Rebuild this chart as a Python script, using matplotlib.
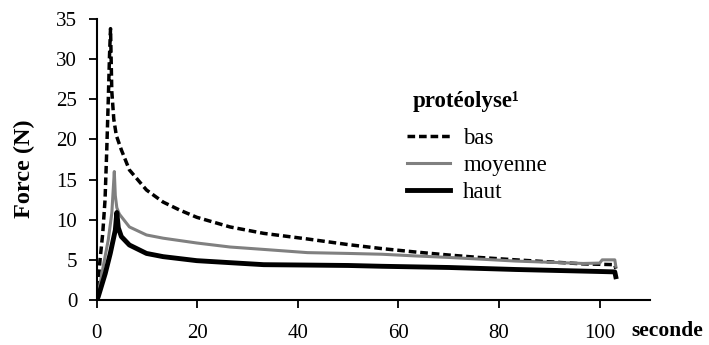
import matplotlib
matplotlib.use("Agg")
import matplotlib.pyplot as plt

plt.rcParams['font.family'] = ['Liberation Serif', 'DejaVu Serif']
plt.rcParams['lines.scale_dashes'] = False

# ---- data ----
bas_x = [0, 0.66, 1.2, 1.66, 2.0, 2.3, 2.55, 2.75, 3.0, 3.4, 3.9, 4.9, 6.5, 9.9, 13.2,
         16.5, 19.9, 26.5, 33.2, 41.9, 50, 56.7, 63, 70, 76, 83.3, 90, 96.7, 100, 103, 103.2]
bas_y = [0, 5, 8.3, 12.5, 18.7, 24.9, 30.5, 33.8, 26, 22.5, 20.5, 18.7, 16.2, 13.7, 12.2,
         11.2, 10.3, 9.1, 8.3, 7.6, 6.9, 6.4, 6.0, 5.6, 5.3, 5.0, 4.75, 4.5, 4.45, 4.4, 3.9]

moy_x = [0, 0.3, 1.3, 2.3, 3.0, 3.5, 3.7, 4.0, 4.5, 6.5, 9.9, 13.2, 19.9, 26.5, 33.2,
         41.9, 50, 56.7, 63, 70, 76, 83.3, 90, 96.7, 100, 100.5, 103, 103.2]
moy_y = [0, 0.8, 4.2, 7.5, 10.8, 16.0, 13.0, 11.5, 10.7, 9.1, 8.1, 7.7, 7.1, 6.6, 6.3,
         5.9, 5.8, 5.7, 5.5, 5.3, 5.1, 4.85, 4.7, 4.55, 4.6, 5.0, 5.0, 4.2]

haut_x = [0, 0.3, 1.7, 2.7, 3.7, 4.0, 4.3, 4.9, 6.5, 9.9, 13.2, 19.9, 26.5, 33.2, 41.9,
          50, 56.7, 70, 83.3, 96.7, 100, 103, 103.2]
haut_y = [0, 0.4, 3.3, 5.8, 8.7, 10.9, 9.0, 7.9, 6.85, 5.8, 5.4, 4.9, 4.65, 4.4, 4.35,
          4.3, 4.2, 4.05, 3.8, 3.6, 3.55, 3.5, 2.9]

series_labels = ['bas', 'moyenne', 'haut']
legend_title = 'protéolyse¹'
x_ticks = [0, 20, 40, 60, 80, 100]
y_ticks = [0, 5, 10, 15, 20, 25, 30, 35]

# ---- figure ----
fig = plt.figure(figsize=(7.09, 3.45), dpi=100)
ax = fig.add_axes([96.7 / 709, 1 - 300 / 345, (650 - 96.7) / 709, (300 - 19) / 345])

ax.plot(bas_x, bas_y, color='black', lw=2.5, dashes=(5.5, 2.8), label=series_labels[0])
ax.plot(moy_x, moy_y, color='#808080', lw=2.2, label=series_labels[1])
ax.plot(haut_x, haut_y, color='black', lw=3.5, label=series_labels[2])

ax.set_xlim(0, 110)
ax.set_ylim(0, 35)
ax.set_xticks(x_ticks)
ax.set_yticks(y_ticks)
ax.set_xticklabels([str(v) for v in x_ticks])
ax.set_yticklabels([str(v) for v in y_ticks])

for s in ['top', 'right']:
    ax.spines[s].set_visible(False)
for s in ['left', 'bottom']:
    ax.spines[s].set_linewidth(1.5)
ax.tick_params(axis='both', direction='out', length=6, width=1.3, labelsize=15)
ax.tick_params(axis='y', pad=8)
ax.tick_params(axis='x', pad=11)

fig.text(24 / 709, 1 - 169 / 345, 'Force (N)', rotation=90, ha='center', va='center',
         fontsize=17.5, fontweight='bold')
fig.text(667 / 709, 1 - 331 / 345, 'seconde', ha='center', va='center',
         fontsize=15.5, fontweight='bold')

ax.text((413 - 96.7) / 553.3, (300 - 102) / 281, legend_title, transform=ax.transAxes,
        ha='left', va='center', fontsize=16.5, fontweight='bold')
leg = ax.legend(loc='upper left', bbox_to_anchor=((407 - 96.7) / 553.3, (300 - 128) / 281),
                frameon=False, fontsize=16.5, handlelength=1.88, handletextpad=0.57,
                labelspacing=0.25, borderpad=0, borderaxespad=0)

fig.savefig('out.png', dpi=100)
